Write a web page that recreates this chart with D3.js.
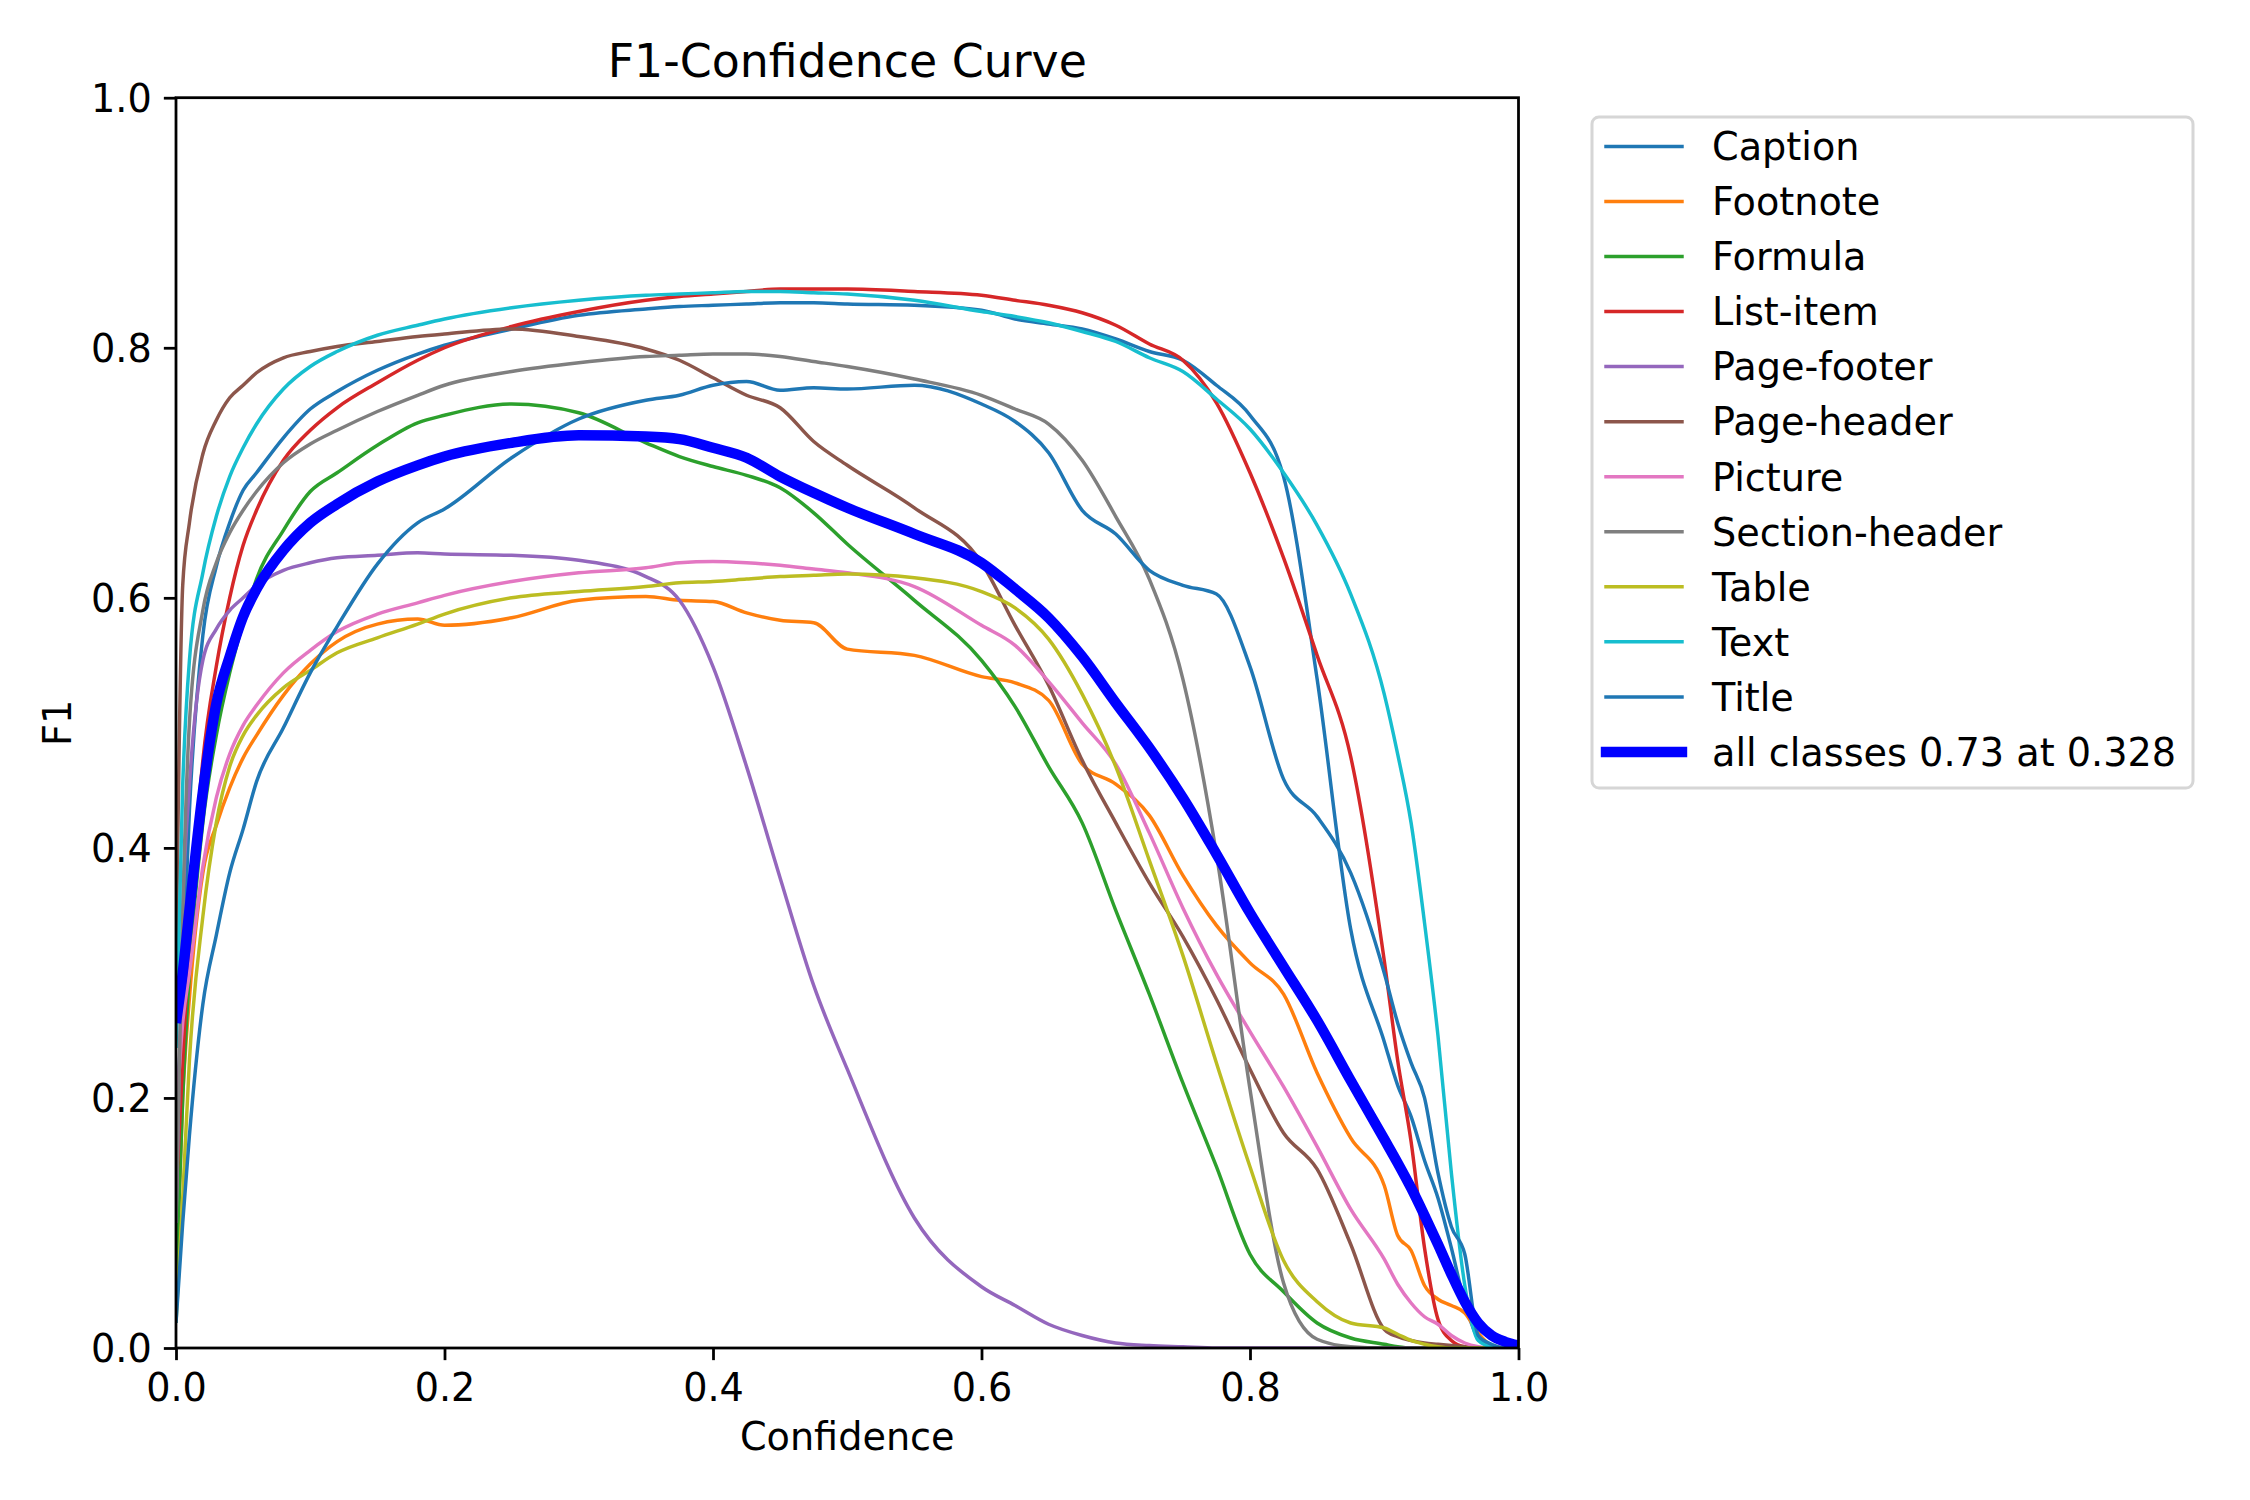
<!DOCTYPE html>
<html>
<head>
<meta charset="utf-8">
<script src="https://cdn.jsdelivr.net/npm/d3@7"></script>
<style>
  html, body { margin: 0; padding: 0; background: #ffffff; }
  svg { display: block; }
  text { font-family: "DejaVu Sans", sans-serif; fill: #000; }
</style>
</head>
<body>
<svg id="chart" width="2250" height="1500"></svg>
<script>
// ---------------- DATA ----------------
const conf = [0, 0.005, 0.01, 0.02, 0.03, 0.04, 0.05, 0.06, 0.08, 0.1,
  0.12, 0.15, 0.18, 0.2, 0.25, 0.3, 0.35, 0.375, 0.4, 0.425,
  0.45, 0.475, 0.5, 0.55, 0.6, 0.625, 0.65, 0.675, 0.7, 0.725,
  0.75, 0.775, 0.8, 0.825, 0.85, 0.875, 0.9, 0.91, 0.92, 0.93,
  0.94, 0.95, 0.96, 0.97, 0.98, 0.99, 1.0];

const classNames = ["Caption", "Footnote", "Formula", "List-item", "Page-footer",
  "Page-header", "Picture", "Section-header", "Table", "Text", "Title"];

const caption = [0.15, 0.30, 0.43, 0.57, 0.625, 0.66, 0.686, 0.70, 0.728, 0.751,
  0.765, 0.782, 0.795, 0.802, 0.815, 0.826, 0.831, 0.833, 0.834, 0.835,
  0.836, 0.836, 0.835, 0.834, 0.83, 0.823, 0.819, 0.815, 0.807, 0.797,
  0.79, 0.77, 0.746, 0.697, 0.535, 0.335, 0.245, 0.21, 0.185, 0.15,
  0.12, 0.08, 0.036, 0.008, 0.002, 0, 0];

const footnote = [0.05, 0.2, 0.28, 0.38, 0.418, 0.448, 0.472, 0.49, 0.522, 0.547,
  0.565, 0.579, 0.583, 0.578, 0.584, 0.598, 0.601, 0.598, 0.597, 0.588,
  0.582, 0.58, 0.559, 0.554, 0.537, 0.532, 0.518, 0.467, 0.451, 0.426,
  0.378, 0.338, 0.308, 0.283, 0.22, 0.168, 0.13, 0.09, 0.078, 0.05,
  0.039, 0.034, 0.028, 0.012, 0.002, 0, 0];

const formula = [0.05, 0.2, 0.3, 0.42, 0.49, 0.54, 0.58, 0.615, 0.654, 0.685,
  0.70, 0.722, 0.74, 0.746, 0.755, 0.748, 0.724, 0.713, 0.705, 0.698,
  0.688, 0.668, 0.643, 0.598, 0.55, 0.513, 0.465, 0.42, 0.35, 0.283,
  0.212, 0.145, 0.075, 0.045, 0.02, 0.008, 0.003, 0.001, 0, 0,
  0, 0, 0, 0, 0, 0, 0];

const listItem = [0.12, 0.23, 0.33, 0.47, 0.545, 0.60, 0.642, 0.67, 0.71, 0.734,
  0.752, 0.772, 0.79, 0.80, 0.817, 0.829, 0.838, 0.841, 0.843, 0.845,
  0.847, 0.847, 0.847, 0.845, 0.842, 0.838, 0.834, 0.828, 0.818, 0.803,
  0.79, 0.756, 0.70, 0.632, 0.554, 0.473, 0.31, 0.23, 0.165, 0.08,
  0.023, 0.006, 0.001, 0, 0, 0, 0];

const pageFooter = [0.1, 0.35, 0.45, 0.55, 0.575, 0.59, 0.6, 0.61, 0.622, 0.628,
  0.632, 0.634, 0.636, 0.635, 0.634, 0.63, 0.617, 0.598, 0.545, 0.465,
  0.376, 0.29, 0.223, 0.104, 0.049, 0.034, 0.019, 0.01, 0.004, 0.002,
  0.001, 0, 0, 0, 0, 0, 0, 0, 0, 0,
  0, 0, 0, 0, 0, 0, 0];

const pageHeader = [0.30, 0.61, 0.66, 0.715, 0.742, 0.76, 0.77, 0.78, 0.792, 0.797,
  0.801, 0.805, 0.809, 0.811, 0.815, 0.809, 0.799, 0.79, 0.776, 0.762,
  0.752, 0.725, 0.706, 0.672, 0.628, 0.578, 0.53, 0.47, 0.42, 0.372,
  0.329, 0.279, 0.223, 0.172, 0.143, 0.083, 0.015, 0.009, 0.006, 0.004,
  0.003, 0.002, 0.001, 0, 0, 0, 0];

const picture = [0.18, 0.26, 0.30, 0.385, 0.44, 0.475, 0.498, 0.514, 0.54, 0.558,
  0.573, 0.587, 0.596, 0.602, 0.613, 0.62, 0.624, 0.628, 0.629, 0.628,
  0.626, 0.623, 0.62, 0.609, 0.578, 0.562, 0.533, 0.50, 0.467, 0.412,
  0.352, 0.299, 0.253, 0.209, 0.161, 0.111, 0.071, 0.051, 0.036, 0.025,
  0.019, 0.01, 0.004, 0.001, 0, 0, 0];

const sectionHeader = [0.1, 0.35, 0.5, 0.59, 0.628, 0.652, 0.67, 0.685, 0.708, 0.723,
  0.734, 0.749, 0.762, 0.77, 0.781, 0.788, 0.793, 0.794, 0.795, 0.795,
  0.793, 0.789, 0.785, 0.775, 0.762, 0.751, 0.739, 0.71, 0.665, 0.615,
  0.535, 0.395, 0.207, 0.052, 0.007, 0.001, 0, 0, 0, 0,
  0, 0, 0, 0, 0, 0, 0];

const table = [0.02, 0.12, 0.23, 0.345, 0.42, 0.465, 0.49, 0.506, 0.528, 0.542,
  0.556, 0.568, 0.579, 0.587, 0.6, 0.605, 0.609, 0.612, 0.613, 0.615,
  0.617, 0.618, 0.619, 0.616, 0.605, 0.592, 0.567, 0.523, 0.465, 0.39,
  0.314, 0.228, 0.145, 0.07, 0.037, 0.02, 0.016, 0.011, 0.006, 0.003,
  0.001, 0, 0, 0, 0, 0, 0];

const text = [0.24, 0.45, 0.55, 0.62, 0.665, 0.697, 0.72, 0.739, 0.767, 0.785,
  0.797, 0.81, 0.818, 0.823, 0.832, 0.838, 0.842, 0.843, 0.844, 0.845,
  0.845, 0.844, 0.843, 0.838, 0.829, 0.825, 0.82, 0.813, 0.805, 0.792,
  0.781, 0.759, 0.735, 0.70, 0.658, 0.603, 0.523, 0.475, 0.42, 0.34,
  0.25, 0.14, 0.05, 0.006, 0.001, 0, 0];

const title = [0.02, 0.10, 0.17, 0.275, 0.33, 0.38, 0.415, 0.453, 0.496, 0.54,
  0.577, 0.627, 0.66, 0.671, 0.712, 0.743, 0.758, 0.762, 0.77, 0.773,
  0.766, 0.768, 0.767, 0.77, 0.755, 0.741, 0.716, 0.67, 0.651, 0.622,
  0.61, 0.603, 0.545, 0.455, 0.425, 0.38, 0.30, 0.26, 0.228, 0.20,
  0.14, 0.097, 0.075, 0.01, 0.003, 0, 0];

const allClasses = [0.26, 0.30, 0.35, 0.445, 0.515, 0.553, 0.585, 0.607, 0.638, 0.66,
  0.675, 0.693, 0.706, 0.713, 0.724, 0.73, 0.729, 0.727, 0.72, 0.712,
  0.697, 0.684, 0.672, 0.651, 0.628, 0.607, 0.584, 0.553, 0.516, 0.48,
  0.44, 0.395, 0.348, 0.305, 0.262, 0.214, 0.167, 0.148, 0.128, 0.106,
  0.083, 0.059, 0.037, 0.02, 0.01, 0.005, 0.002];

const allClassesLabel = "all classes 0.73 at 0.328";
const xTicks = [0, 0.2, 0.4, 0.6, 0.8, 1.0];
const yTicks = [0, 0.2, 0.4, 0.6, 0.8, 1.0];
const chartTitle = "F1-Confidence Curve";
const xLabel = "Confidence";
const yLabel = "F1";

const classSeries = [caption, footnote, formula, listItem, pageFooter, pageHeader,
  picture, sectionHeader, table, text, title];

// ---------------- STYLE ----------------
const colors = ["#1f77b4", "#ff7f0e", "#2ca02c", "#d62728", "#9467bd", "#8c564b",
  "#e377c2", "#7f7f7f", "#bcbd22", "#17becf", "#1f77b4"];
const meanColor = "#0000ff";
const thinW = 3.47, thickW = 10.4;
const fontPx = 38.2, titlePx = 45.8;

const L = 176, R = 1518.5, T = 97.7, B = 1348;

const svg = d3.select("#chart");
svg.append("rect").attr("width", 2250).attr("height", 1500).attr("fill", "#fff");

const x = d3.scaleLinear().domain([0, 1]).range([L, R]);
const y = d3.scaleLinear().domain([0, 1]).range([B, T]);

svg.append("defs").append("clipPath").attr("id", "plotclip")
  .append("rect").attr("x", L).attr("y", T).attr("width", R - L).attr("height", B - T);

const line = d3.line()
  .x((d, i) => x(conf[i]))
  .y(d => y(d))
  .curve(d3.curveMonotoneX);

const plot = svg.append("g").attr("clip-path", "url(#plotclip)");
classSeries.forEach((s, k) => {
  plot.append("path")
    .attr("d", line(s))
    .attr("fill", "none")
    .attr("stroke", colors[k])
    .attr("stroke-width", thinW)
    .attr("stroke-linejoin", "round");
});
plot.append("path")
  .attr("d", line(allClasses))
  .attr("fill", "none")
  .attr("stroke", meanColor)
  .attr("stroke-width", thickW)
  .attr("stroke-linejoin", "round");

// axes
const fmt = d3.format(".1f");
const xAxis = svg.append("g").attr("transform", `translate(0,${B})`)
  .call(d3.axisBottom(x).tickValues(xTicks).tickFormat(fmt).tickSize(12.15).tickPadding(12.15).tickSizeOuter(0));
const yAxis = svg.append("g").attr("transform", `translate(${L},0)`)
  .call(d3.axisLeft(y).tickValues(yTicks).tickFormat(fmt).tickSize(12.15).tickPadding(12.15).tickSizeOuter(0));
[xAxis, yAxis].forEach(a => {
  a.select(".domain").remove();
  a.selectAll(".tick line").attr("stroke", "#000").attr("stroke-width", 2.78);
  a.selectAll(".tick text").attr("font-family", "DejaVu Sans").attr("font-size", fontPx).attr("fill", "#000");
});
xAxis.selectAll(".tick text").attr("dy", "0.76em");
yAxis.selectAll(".tick text").attr("dy", "0.36em");

// frame (spines)
svg.append("rect").attr("x", L).attr("y", T).attr("width", R - L).attr("height", B - T)
  .attr("fill", "none").attr("stroke", "#000").attr("stroke-width", 2.78);

// title & labels
svg.append("text").attr("x", (L + R) / 2).attr("y", 77).attr("text-anchor", "middle")
  .attr("font-size", titlePx).text(chartTitle);
svg.append("text").attr("x", (L + R) / 2).attr("y", 1450).attr("text-anchor", "middle")
  .attr("font-size", fontPx).text(xLabel);
svg.append("text").attr("transform", `translate(71,${(T + B) / 2}) rotate(-90)`)
  .attr("text-anchor", "middle").attr("font-size", fontPx).text(yLabel);

// legend
const leg = svg.append("g");
leg.append("rect").attr("x", 1592).attr("y", 117).attr("width", 601).attr("height", 671)
  .attr("rx", 7).attr("ry", 7).attr("fill", "#fff").attr("stroke", "#d6d6d6").attr("stroke-width", 3);
const legItems = classNames.map((n, k) => ({ name: n, color: colors[k], w: thinW }))
  .concat([{ name: allClassesLabel, color: meanColor, w: thickW }]);
legItems.forEach((it, i) => {
  const ly = 146.4 + i * 55.05;
  leg.append("line").attr("x1", 1606).attr("x2", 1682).attr("y1", ly).attr("y2", ly)
    .attr("stroke", it.color).attr("stroke-width", it.w).attr("stroke-linecap", "square");
  leg.append("text").attr("x", 1712).attr("y", ly + 13.8).attr("font-size", fontPx).text(it.name);
});
</script>
</body>
</html>
